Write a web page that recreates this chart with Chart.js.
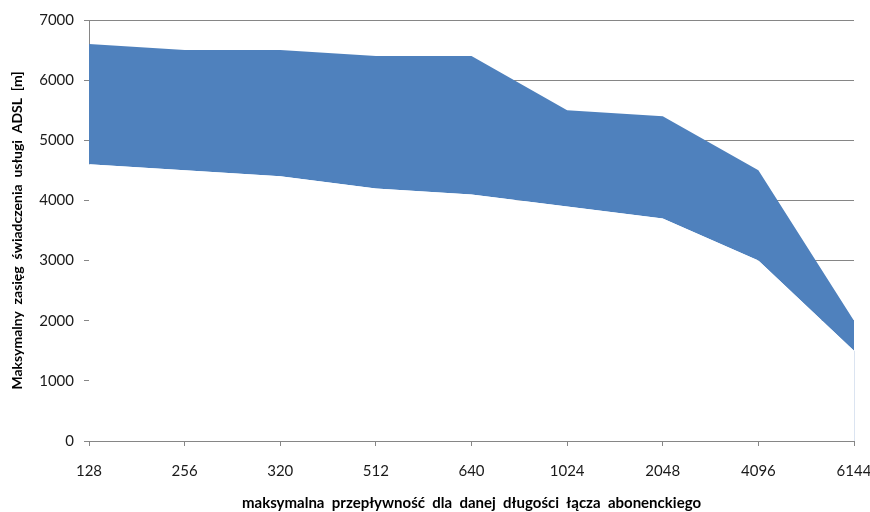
<!DOCTYPE html>
<html>
<head>
<meta charset="utf-8">
<script src="https://cdn.jsdelivr.net/npm/chart.js@4/dist/chart.umd.min.js"></script>
<style>
  html, body { margin: 0; padding: 0; background: #fff; }
  #wrap { width: 870px; height: 512px; position: relative; }
</style>
</head>
<body>
<div id="wrap"><canvas id="c" width="870" height="512"></canvas></div>
<script>
// Przepływność łącza (kbit/s)
const categories = ['128', '256', '320', '512', '640', '1024', '2048', '4096', '6144'];
// Dolna granica zasięgu [m]
const rangeLow = [4600, 4500, 4400, 4200, 4100, 3900, 3700, 3000, 1500];
// Górna granica zasięgu [m]
const rangeHigh = [6600, 6500, 6500, 6400, 6400, 5500, 5400, 4500, 2000];
const yTicks = [0, 1000, 2000, 3000, 4000, 5000, 6000, 7000];

const axisGray = '#868686';
const bandBlue = '#4F81BD';
const FONT = 'Lato, "Open Sans", sans-serif';

// Cienka krawędź białego obszaru na końcu osi X
const edgeLine = {
  id: 'edgeLine',
  afterDatasetsDraw(chart) {
    const x = chart.scales.x, y = chart.scales.y;
    const i = categories.length - 1;
    const px = x.getPixelForValue(i);
    const ctx = chart.ctx;
    ctx.save();
    ctx.strokeStyle = '#dbe4f1';
    ctx.lineWidth = 1;
    ctx.beginPath();
    ctx.moveTo(Math.round(px) + 0.5, y.getPixelForValue(0));
    ctx.lineTo(Math.round(px) + 0.5, y.getPixelForValue(rangeLow[i]));
    ctx.stroke();
    ctx.restore();
  }
};

new Chart(document.getElementById('c'), {
  type: 'line',
  data: {
    labels: categories,
    datasets: [
      {
        label: 'min',
        data: rangeLow,
        fill: 'origin',
        backgroundColor: '#ffffff',
        borderWidth: 0,
        pointRadius: 0,
        tension: 0
      },
      {
        label: 'max',
        data: rangeHigh,
        fill: '-1',
        backgroundColor: bandBlue,
        borderWidth: 0,
        pointRadius: 0,
        tension: 0
      }
    ]
  },
  options: {
    responsive: false,
    animation: false,
    events: [],
    layout: { autoPadding: false, padding: { top: 20, right: 16, left: 0, bottom: 0 } },
    plugins: { legend: { display: false }, tooltip: { enabled: false } },
    scales: {
      x: {
        type: 'category',
        offset: false,
        afterFit(s) { s.height = 71; s.paddingRight = 0; s.paddingLeft = 0; },
        grid: { drawOnChartArea: false, drawTicks: true, tickLength: 5, color: axisGray },
        border: { color: axisGray, width: 1 },
        ticks: { color: '#1a1a1a', font: { family: FONT, size: 15 }, padding: 16, maxRotation: 0, autoSkip: false },
        title: {
          display: true,
          text: 'maksymalna  przepływność  dla  danej  długości  łącza  abonenckiego',
          color: '#000',
          font: { family: FONT, size: 15, weight: 'bold' },
          padding: { top: 6, bottom: 0 }
        }
      },
      y: {
        min: 0,
        max: 7000,
        afterFit(s) { s.width = 89; },
        afterBuildTicks(s) { s.ticks = yTicks.map(v => ({ value: v })); },
        grid: { color: axisGray, tickLength: 5, drawTicks: true },
        border: { color: axisGray, width: 1 },
        ticks: { color: '#1a1a1a', font: { family: FONT, size: 15 }, padding: 10, callback: v => String(v) },
        title: {
          display: true,
          text: 'Maksymalny  zasięg  świadczenia  usługi  ADSL  [m]',
          color: '#000',
          font: { family: FONT, size: 14, weight: 'bold' },
          padding: { top: 9, bottom: 4 }
        }
      }
    }
  },
  plugins: [edgeLine]
});
</script>
</body>
</html>
